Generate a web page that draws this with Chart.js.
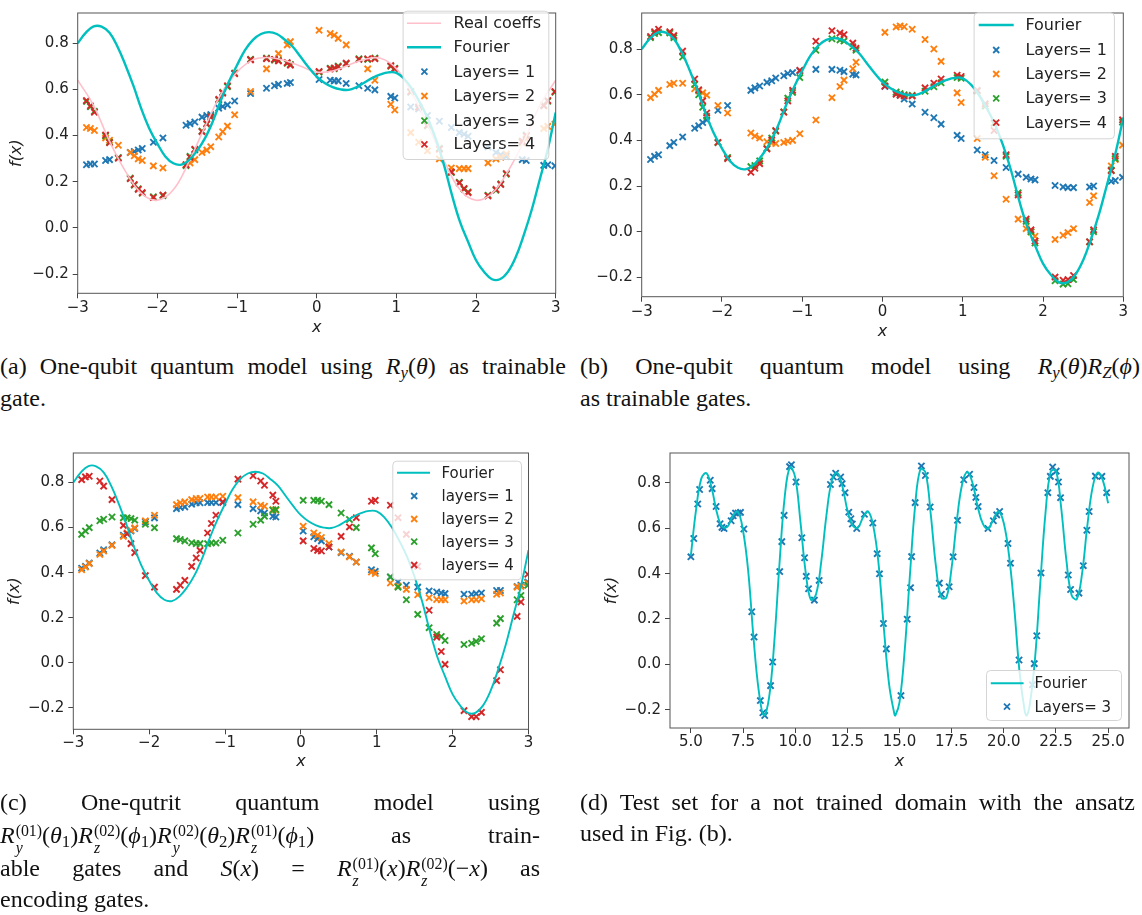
<!DOCTYPE html>
<html><head><meta charset="utf-8">
<script src="https://cdn.jsdelivr.net/npm/chart.js@4.4.1/dist/chart.umd.min.js"></script>
<style>
html,body{margin:0;padding:0;background:#fff;width:1142px;height:915px;overflow:hidden}
.cv{position:absolute}
.cap{position:absolute;font-family:"Liberation Serif","DejaVu Serif",serif;font-size:24px;color:#111;height:28px;line-height:28px;overflow:visible}
.j{text-align:justify;text-align-last:justify}
.ss{display:inline-flex;flex-direction:column;vertical-align:0.42em;font-size:0.66em;line-height:1;margin-left:1px}
.ss span{display:block;line-height:1.08}
sub{font-size:0.7em;vertical-align:-0.25em;line-height:0}
</style></head><body>
<canvas id="ca" class="cv" style="left:0;top:0" width="570" height="350"></canvas>
<canvas id="cb" class="cv" style="left:575px;top:0" width="567" height="350"></canvas>
<canvas id="cc" class="cv" style="left:0;top:440px" width="570" height="350"></canvas>
<canvas id="cd" class="cv" style="left:575px;top:440px" width="567" height="350"></canvas>

<div class="cap j" style="left:0;top:352px;width:566px">(a) One-qubit quantum model using <i>R</i><sub><i>y</i></sub>(<i>θ</i>) as trainable</div>
<div class="cap" style="left:0;top:384px;width:566px">gate.</div>
<div class="cap j" style="left:580px;top:352px;width:560px">(b) One-qubit quantum model using <i>R</i><sub><i>y</i></sub>(<i>θ</i>)<i>R</i><sub><i>Z</i></sub>(<i>ϕ</i>)</div>
<div class="cap" style="left:580px;top:384px;width:560px">as trainable gates.</div>

<div class="cap j" style="left:0;top:788px;width:540px">(c) One-qutrit quantum model using</div>
<div class="cap j" style="left:0;top:821px;width:540px"><i>R</i><span class="ss"><span>(01)</span><span><i>y</i></span></span>(<i>θ</i><sub>1</sub>)<i>R</i><span class="ss"><span>(02)</span><span><i>z</i></span></span>(<i>ϕ</i><sub>1</sub>)<i>R</i><span class="ss"><span>(02)</span><span><i>y</i></span></span>(<i>θ</i><sub>2</sub>)<i>R</i><span class="ss"><span>(01)</span><span><i>z</i></span></span>(<i>ϕ</i><sub>1</sub>) as train-</div>
<div class="cap j" style="left:0;top:854px;width:540px">able gates and <i>S</i>(<i>x</i>) = <i>R</i><span class="ss"><span>(01)</span><span><i>z</i></span></span>(<i>x</i>)<i>R</i><span class="ss"><span>(02)</span><span><i>z</i></span></span>(−<i>x</i>) as</div>
<div class="cap" style="left:0;top:885px;width:540px">encoding gates.</div>
<div class="cap j" style="left:580px;top:788px;width:555px">(d) Test set for a not trained domain with the ansatz</div>
<div class="cap" style="left:580px;top:819px;width:555px">used in Fig. (b).</div>

<script>
// ---------- DATA ----------
const xTrain = [-2.89,-2.84,-2.79,-2.65,-2.6,-2.49,-2.34,-2.29,-2.24,-2.19,-2.05,-1.93,-1.64,-1.59,-1.53,-1.44,-1.38,-1.33,-1.23,-1.18,-1.12,-1.03,-0.83,-0.63,-0.53,-0.48,-0.37,-0.33,0.03,0.17,0.22,0.27,0.37,0.53,0.64,0.73,0.93,0.98,1.18,1.28,1.39,1.54,1.69,1.79,1.85,1.9,2.15,2.25,2.31,2.38,2.58,2.63,2.85,2.9,2.99];

const fourierX = [-3.0,-2.9,-2.8,-2.7,-2.6,-2.5,-2.4,-2.3,-2.2,-2.1,-2.0,-1.9,-1.8,-1.7,-1.6,-1.5,-1.4,-1.3,-1.2,-1.1,-1.0,-0.9,-0.8,-0.7,-0.6,-0.5,-0.4,-0.3,-0.2,-0.1,0.0,0.1,0.2,0.3,0.4,0.5,0.6,0.7,0.8,0.9,1.0,1.1,1.2,1.3,1.4,1.5,1.6,1.7,1.8,1.9,2.0,2.1,2.2,2.3,2.4,2.5,2.6,2.7,2.8,2.9,3.0];
const fourierY = [0.80,0.845,0.873,0.872,0.845,0.785,0.705,0.615,0.515,0.43,0.365,0.31,0.28,0.274,0.295,0.335,0.39,0.465,0.555,0.635,0.705,0.77,0.815,0.84,0.848,0.84,0.815,0.785,0.74,0.695,0.655,0.628,0.61,0.60,0.598,0.61,0.63,0.65,0.665,0.674,0.672,0.645,0.60,0.54,0.47,0.38,0.27,0.14,0.025,-0.06,-0.14,-0.19,-0.222,-0.222,-0.19,-0.125,-0.03,0.08,0.21,0.34,0.50];

const realX = [-3.0,-2.8,-2.6,-2.4,-2.2,-2.0,-1.8,-1.6,-1.4,-1.2,-1.0,-0.8,-0.6,-0.4,-0.2,0.0,0.2,0.4,0.6,0.8,1.0,1.2,1.4,1.6,1.8,2.0,2.2,2.4,2.6,2.8,3.0];
const realY = [0.64,0.53,0.375,0.245,0.15,0.12,0.165,0.29,0.44,0.58,0.675,0.728,0.738,0.725,0.70,0.675,0.68,0.705,0.73,0.735,0.69,0.58,0.44,0.29,0.165,0.12,0.15,0.245,0.375,0.53,0.64];

// panel (a)
const a1 = [0.274,0.277,0.277,0.292,0.296,null,0.327,0.331,0.338,0.344,0.371,0.39,0.445,0.452,0.459,0.48,0.487,0.491,0.519,0.526,0.533,0.55,0.582,0.605,0.616,0.622,0.626,0.63,0.643,0.64,0.637,0.637,0.626,0.616,0.605,0.598,0.57,0.563,0.524,0.515,0.487,0.462,0.435,0.413,0.406,0.397,0.351,0.327,0.317,0.31,0.296,0.292,0.271,0.274,0.269];
const a2 = [0.435,0.431,0.422,0.39,0.38,0.358,0.327,0.313,0.299,0.292,0.269,0.26,0.274,0.282,0.296,0.327,0.337,0.352,0.394,0.417,0.441,0.49,0.591,0.689,0.73,0.755,0.793,0.807,0.856,0.842,0.835,0.821,0.793,null,0.689,0.64,0.536,0.511,0.413,0.371,0.334,0.299,0.26,0.257,0.257,0.257,0.282,0.299,0.306,0.32,0.369,0.385,0.431,0.44,0.449];
const a3 = [0.548,0.525,0.505,0.398,0.372,0.305,0.216,0.185,0.17,0.15,0.135,0.14,0.27,0.31,0.338,0.42,0.449,0.483,0.553,0.588,0.612,0.671,0.731,0.736,0.727,0.726,0.713,0.708,0.675,0.692,0.69,0.701,0.711,0.733,0.73,0.736,0.7,0.692,0.588,0.525,0.442,0.345,0.24,0.198,0.168,0.156,0.142,0.164,0.191,0.233,0.373,0.402,0.532,0.549,0.588];
const a4 = [0.552,0.529,0.501,0.403,0.369,0.302,0.213,0.188,0.167,0.153,0.132,0.143,0.274,0.306,0.341,0.417,0.452,0.48,0.557,0.584,0.616,0.668,0.728,0.733,0.73,0.723,0.716,0.705,0.678,0.689,0.693,0.698,0.714,0.73,0.733,0.733,0.703,0.689,0.591,0.522,0.445,0.341,0.243,0.195,0.171,0.153,0.139,0.167,0.188,0.236,0.376,0.399,0.529,0.552,0.591];

// panel (b)
const b1 = [0.316,0.33,0.337,0.377,0.391,0.415,0.453,0.464,0.478,0.489,0.532,0.553,0.619,0.63,0.638,0.654,0.661,0.673,0.683,0.693,0.697,0.704,0.711,0.711,0.707,0.701,0.69,0.687,0.636,0.605,0.598,0.581,0.559,0.523,0.499,0.471,0.422,0.408,0.358,0.337,0.312,0.281,0.252,0.238,0.231,0.227,0.202,0.196,0.193,0.193,0.196,0.2,0.221,0.224,0.238];
const b2 = [0.587,0.602,0.619,0.645,0.65,0.65,0.626,0.616,0.608,0.598,0.553,0.52,0.432,0.419,0.41,0.394,0.389,0.386,0.391,0.396,0.4,0.429,0.489,0.587,0.636,0.664,0.714,0.742,0.873,0.897,0.901,0.898,0.887,0.842,0.8,0.746,0.608,0.566,0.408,0.326,0.245,0.142,0.055,0.013,-0.001,-0.02,-0.034,-0.016,-0.004,0.013,0.128,0.157,0.288,0.316,0.379];
const b3 = [0.85,0.868,0.872,0.87,0.85,0.765,0.645,0.60,0.545,0.505,0.39,0.325,0.285,0.29,0.31,0.365,0.41,0.44,0.525,0.585,0.61,0.675,0.795,0.845,0.84,0.835,0.81,0.795,0.655,0.612,0.605,0.60,0.597,0.615,0.635,0.652,0.675,0.672,0.615,0.55,0.475,0.33,0.17,0.045,0.0,-0.05,-0.215,-0.23,-0.228,-0.21,-0.045,0.0,0.27,0.32,0.48];
const b4 = [0.855,0.876,0.887,0.876,0.859,0.791,0.669,0.622,0.573,0.52,0.391,0.32,0.26,0.278,0.298,0.362,0.401,0.443,0.523,0.573,0.619,0.707,0.834,0.88,0.87,0.863,0.826,0.803,0.638,0.602,0.597,0.594,0.594,0.63,0.65,0.669,0.685,0.68,0.619,0.56,0.443,0.337,0.161,0.055,0.008,-0.041,-0.199,-0.213,-0.21,-0.192,-0.044,0.008,0.267,0.33,0.49];

// panel (c)
const c1 = [0.42,0.428,0.443,0.487,0.502,0.524,0.566,0.573,0.585,0.596,0.625,0.643,0.684,0.689,0.692,0.704,0.71,0.71,0.711,0.711,0.711,0.711,0.702,0.684,0.674,0.665,0.65,0.647,0.585,0.559,0.551,0.541,0.514,0.489,0.473,0.447,0.413,0.406,0.381,0.359,0.344,0.336,0.319,0.314,0.31,0.307,0.304,0.304,0.307,0.31,0.321,0.321,0.339,0.344,0.359];
const c2 = [0.413,0.425,0.44,0.481,0.496,0.521,0.561,0.576,0.588,0.599,0.63,0.655,0.702,0.71,0.714,0.724,0.729,0.729,0.736,0.736,0.736,0.739,0.733,0.714,0.699,0.695,0.68,0.677,0.606,0.576,0.566,0.556,0.529,0.492,0.47,0.447,0.403,0.396,0.354,0.341,0.326,0.302,0.289,0.281,0.28,0.28,0.274,0.28,0.28,0.284,0.304,0.31,0.336,0.339,0.354];
const c3 = [0.57,0.585,0.6,0.63,0.637,0.647,0.643,0.643,0.64,0.633,0.615,0.599,0.551,0.547,0.541,0.533,0.529,0.529,0.529,0.532,0.532,0.544,0.576,0.615,0.633,0.65,0.677,0.68,0.721,0.721,0.721,0.717,0.702,0.665,0.636,0.6,0.51,0.484,0.381,0.336,0.28,0.215,0.156,0.126,0.117,0.099,0.081,0.087,0.095,0.107,0.176,0.196,0.28,0.299,0.344];
const c4 = [0.813,0.825,0.828,0.807,0.784,0.724,0.61,0.573,0.529,0.489,0.387,0.336,0.326,0.344,0.366,0.428,0.465,0.499,0.576,0.618,0.655,0.714,0.815,0.83,0.807,0.788,0.744,0.717,0.541,0.507,0.499,0.496,0.514,0.561,0.603,0.644,0.717,0.721,0.699,0.644,0.57,0.428,0.233,0.114,0.05,-0.007,-0.212,-0.239,-0.239,-0.22,-0.079,-0.031,0.206,0.27,0.393];

// panel (d)
const dCurveX = [5.0,5.25,5.5,5.75,6.0,6.25,6.5,6.75,7.0,7.25,7.5,7.75,8.0,8.25,8.5,8.75,9.0,9.25,9.5,9.75,10.0,10.25,10.5,10.75,11.0,11.25,11.5,11.75,12.0,12.25,12.5,12.75,13.0,13.25,13.5,13.75,14.0,14.25,14.5,14.75,14.8,15.0,15.25,15.5,15.75,16.0,16.25,16.5,16.75,17.0,17.25,17.5,17.75,18.0,18.25,18.5,18.75,19.0,19.25,19.5,19.75,20.0,20.25,20.5,20.75,21.0,21.1,21.25,21.5,21.75,22.0,22.25,22.5,22.75,23.0,23.25,23.5,23.75,24.0,24.25,24.5,24.75,25.0];
const dCurveY = [0.48,0.682,0.819,0.843,0.777,0.668,0.608,0.606,0.653,0.673,0.59,0.41,0.12,-0.114,-0.226,-0.146,0.10,0.447,0.74,0.869,0.825,0.63,0.408,0.285,0.309,0.453,0.659,0.808,0.845,0.79,0.681,0.613,0.602,0.647,0.674,0.607,0.44,0.16,-0.087,-0.217,-0.226,-0.168,0.062,0.394,0.70,0.86,0.845,0.66,0.43,0.295,0.295,0.428,0.635,0.793,0.848,0.80,0.695,0.619,0.598,0.64,0.674,0.622,0.48,0.25,-0.03,-0.205,-0.226,-0.175,0.03,0.36,0.67,0.85,0.854,0.69,0.458,0.305,0.288,0.40,0.609,0.778,0.846,0.81,0.71];
const dPX = [5.00,5.14,5.33,5.42,5.93,6.02,6.21,6.40,6.49,6.59,6.93,7.03,7.14,7.26,7.38,7.54,7.92,8.03,8.33,8.45,8.54,8.82,8.92,9.26,9.36,9.47,9.73,9.82,10.04,10.32,10.45,10.53,10.64,10.92,11.15,11.69,11.83,11.94,12.18,12.25,12.39,12.57,12.67,12.74,12.95,13.32,13.72,13.93,14.04,14.23,14.37,15.07,15.37,15.53,15.58,15.75,16.05,16.24,16.47,16.91,17.01,17.38,17.57,17.78,18.08,18.36,18.57,18.66,18.77,19.24,19.50,19.66,19.80,20.20,20.32,20.73,21.37,21.46,21.58,21.78,22.11,22.23,22.34,22.51,22.62,22.72,23.09,23.20,23.60,23.81,23.98,24.09,24.39,24.70,24.93];
const dPY = [0.474,0.555,0.707,0.771,0.812,0.775,0.696,0.62,0.604,0.599,0.633,0.655,0.667,0.667,0.67,0.597,0.232,0.12,-0.16,-0.214,-0.226,-0.094,0.01,0.409,0.541,0.657,0.872,0.88,0.804,0.558,0.47,0.388,0.333,0.283,0.37,0.793,0.826,0.843,0.826,0.797,0.757,0.671,0.642,0.619,0.599,0.662,0.623,0.488,0.399,0.18,0.068,-0.138,0.199,0.338,0.475,0.713,0.875,0.833,0.694,0.358,0.309,0.342,0.474,0.635,0.814,0.838,0.78,0.736,0.696,0.599,0.633,0.659,0.674,0.533,0.446,0.019,-0.09,0.003,0.126,0.403,0.757,0.829,0.87,0.852,0.804,0.735,0.394,0.33,0.314,0.435,0.591,0.674,0.83,0.829,0.757];

// ticks
const xTicksABC = [-3,-2,-1,0,1,2,3];
const xTicksD = [5.0,7.5,10.0,12.5,15.0,17.5,20.0,22.5,25.0];
const yTicks = [-0.2,0.0,0.2,0.4,0.6,0.8];

// ---------- helpers ----------
const C1='#1f77b4', C2='#ff7f0e', C3='#2ca02c', C4='#d62728', CF='#00bfbf', CP='#ffc0cb';
function pts(xs, ys){ const o=[]; xs.forEach((x,i)=>{ if(ys[i]!==null) o.push({x:x,y:ys[i]}); }); return o; }
function fmt1(v){ if(Math.abs(v)<1e-9) v=0; return v.toFixed(1).replace('-','\u2212'); }
function fmt0(v){ return String(Math.round(v)).replace('-','\u2212'); }
function lineDS(label, xs, ys, color, w, order){ return {label, data:pts(xs,ys), showLine:true, pointRadius:0, borderColor:color, backgroundColor:color, borderWidth:w, tension:0.4, order, fill:false, kind:'line'}; }
function scatDS(label, xs, ys, color, order){ return {label, data:pts(xs,ys), showLine:false, pointStyle:'crossRot', pointRadius:4.4, pointBorderWidth:1.9, borderColor:color, backgroundColor:color, order, kind:'marker'}; }

function drawX(ctx,x,y,c){ const r=3; ctx.save(); ctx.strokeStyle=c; ctx.lineWidth=1.8; ctx.beginPath(); ctx.moveTo(x-r,y-r); ctx.lineTo(x+r,y+r); ctx.moveTo(x-r,y+r); ctx.lineTo(x+r,y-r); ctx.stroke(); ctx.restore(); }

function panelPlugin(lg){
  return {id:'panel', afterDatasetsDraw(chart){
      const ctx=chart.ctx, a=chart.chartArea; ctx.save();
      ctx.strokeStyle='#555'; ctx.lineWidth=1;
      ctx.strokeRect(a.left, a.top, a.right-a.left, a.bottom-a.top);
      ctx.restore();
    }, afterDraw(chart){
      const ctx=chart.ctx; ctx.save();
      const [x1,y1,x2,y2]=lg.box;
      ctx.beginPath(); ctx.roundRect(x1+0.5,y1+0.5,x2-x1,y2-y1,4);
      ctx.fillStyle='rgba(255,255,255,0.8)'; ctx.fill();
      ctx.strokeStyle='#d4d4d4'; ctx.lineWidth=1; ctx.stroke();
      ctx.font=lg.font; ctx.textBaseline='middle'; ctx.textAlign='left';
      chart.data.datasets.forEach((ds,i)=>{
        const y=lg.ys[i];
        if(ds.kind==='line'){ ctx.strokeStyle=ds.borderColor; ctx.lineWidth=ds.borderWidth; ctx.beginPath(); ctx.moveTo(lg.lx[0],y); ctx.lineTo(lg.lx[1],y); ctx.stroke(); }
        else drawX(ctx, lg.mx, y, ds.borderColor);
        ctx.fillStyle='#222'; ctx.fillText(ds.label, lg.tx, y+1);
      });
      ctx.restore();
    }};
}

function makeChart(id, o){
  const tickFont={family:'DejaVu Sans', size:15};
  const titleFont={family:'DejaVu Sans', size:16, style:'italic'};
  const cfg = {
    type:'scatter',
    data:{datasets:o.datasets},
    options:{
      responsive:false, animation:false, events:[],
      layout:{padding:{left:0, right:o.pr, top:o.pt, bottom:0}},
      plugins:{legend:{display:false}, tooltip:{enabled:false}},
      scales:{
        x:{type:'linear', min:o.xmin, max:o.xmax,
           afterBuildTicks:s=>{ s.ticks=o.xt.map(v=>({value:v})); },
           afterFit:s=>{ s.height=o.xh; },
           ticks:{autoSkip:false, maxRotation:0, padding:o.xtp, font:tickFont, color:'#222', callback:o.xfmt},
           grid:{display:true, drawOnChartArea:false, drawTicks:true, tickLength:5, color:'#444'},
           border:{display:false},
           title:{display:true, text:'x', font:titleFont, color:'#222', padding:{top:0,bottom:o.xtb}}},
        y:{type:'linear', min:o.ymin, max:o.ymax,
           afterBuildTicks:s=>{ s.ticks=yTicks.map(v=>({value:v})); },
           afterFit:s=>{ s.width=o.yw; },
           ticks:{autoSkip:false, padding:4, font:tickFont, color:'#222', callback:fmt1},
           grid:{display:true, drawOnChartArea:false, drawTicks:true, tickLength:5, color:'#444'},
           border:{display:false},
           title:{display:o.ytitle, text:'f(x)', font:titleFont, color:'#222', padding:{top:o.ytp,bottom:0}}}
      }
    },
    plugins:[panelPlugin(o.legend)]
  };
  return new Chart(document.getElementById(id), cfg);
}

// ---------- panels ----------
makeChart('ca', {
  datasets:[ lineDS('Real coeffs', realX, realY, CP, 1.6, 1), lineDS('Fourier', fourierX, fourierY, CF, 2.4, 0),
    scatDS('Layers= 1', xTrain, a1, C1, 5), scatDS('Layers= 2', xTrain, a2, C2, 4), scatDS('Layers= 3', xTrain, a3, C3, 3), scatDS('Layers= 4', xTrain, a4, C4, 2) ],
  xmin:-3, xmax:3, ymin:-0.283, ymax:0.931, xt:xTicksABC, xfmt:fmt0,
  pr:14.3, pt:2.3, yw:77.7, xh:56.7, xtp:1, xtb:12.4, ytitle:true, ytp:6.8,
  legend:{box:[402.6,10.7,548.3,159], ys:[23.3,47.3,71.7,96,120.7,144.3], lx:[407,441], mx:424.4, tx:453.6, font:'16px "DejaVu Sans"'}
});
makeChart('cb', {
  datasets:[ lineDS('Fourier', fourierX, fourierY, CF, 2.4, 0),
    scatDS('Layers= 1', xTrain, b1, C1, 5), scatDS('Layers= 2', xTrain, b2, C2, 4), scatDS('Layers= 3', xTrain, b3, C3, 3), scatDS('Layers= 4', xTrain, b4, C4, 2) ],
  xmin:-3, xmax:3, ymin:-0.285, ymax:0.958, xt:xTicksABC, xfmt:fmt0,
  pr:18.7, pt:3.3, yw:66.7, xh:53.3, xtp:1, xtb:9, ytitle:false, ytp:0,
  legend:{box:[398.6,12.3,538.9,138.3], ys:[25,50,74,98.3,122.7], lx:[403.7,438.7], mx:421.2, tx:450.4, font:'16px "DejaVu Sans"'}
});
makeChart('cc', {
  datasets:[ lineDS('Fourier', fourierX, fourierY, CF, 1.9, 0),
    scatDS('layers= 1', xTrain, c1, C1, 5), scatDS('layers= 2', xTrain, c2, C2, 4), scatDS('layers= 3', xTrain, c3, C3, 3), scatDS('layers= 4', xTrain, c4, C4, 2) ],
  xmin:-3, xmax:3, ymin:-0.295, ymax:0.931, xt:xTicksABC, xfmt:fmt0,
  pr:41.5, pt:12.3, yw:73.3, xh:60.7, xtp:0, xtb:18.4, ytitle:true, ytp:5,
  legend:{box:[392.3,20.7,521,139.3], ys:[32.7,56,79,101.7,125], lx:[397,430], mx:414.2, tx:441.5, font:'15px "DejaVu Sans"'}
});
makeChart('cd', {
  datasets:[ lineDS('Fourier', dCurveX, dCurveY, CF, 1.9, 0), scatDS('Layers= 3', dPX, dPY, C1, 1) ],
  xmin:4, xmax:26, ymin:-0.281, ymax:0.932, xt:xTicksD, xfmt:fmt1,
  pr:13, pt:9.3, yw:95, xh:62, xtp:0, xtb:18.4, ytitle:true, ytp:27.4,
  legend:{box:[411,230,546,280], ys:[243.3,266.7], lx:[415.8,448.6], mx:432, tx:459.5, font:'15px "DejaVu Sans"'}
});
</script>
</body></html>
